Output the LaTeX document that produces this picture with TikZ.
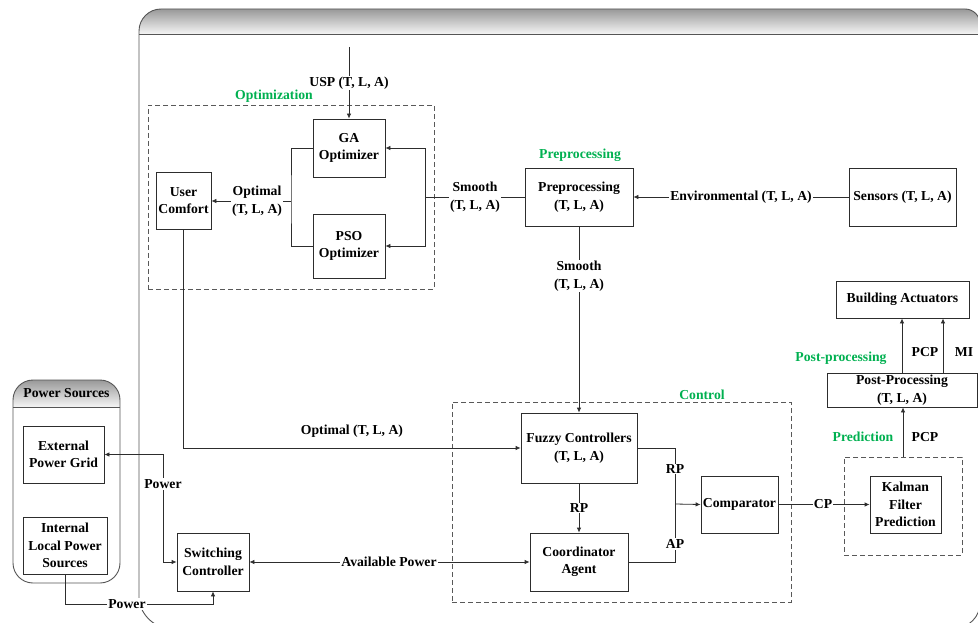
\documentclass[tikz,border=0pt]{standalone}
\usepackage{fontspec}
\setmainfont{Liberation Serif}
\usetikzlibrary{arrows.meta}
\definecolor{grn}{RGB}{0,176,80}
\definecolor{ln}{RGB}{45,45,45}
\definecolor{cont}{RGB}{85,85,85}
\begin{document}
\begin{tikzpicture}[x=1pt,y=-1pt,
 every node/.style={font=\fontsize{13.7}{17.5}\selectfont\bfseries},
 box/.style={draw=ln, line width=0.8pt, inner sep=0pt, align=center, fill=white},
 lbl/.style={fill=white, inner sep=1pt, align=center},
 grl/.style={text=grn, inner sep=0pt},
 dbox/.style={draw=black!65, dash pattern=on 5pt off 3pt, line width=0.8pt, inner sep=0pt},
 conn/.style={draw=ln, line width=0.8pt},
 arr/.style={conn, -{Latex[length=5pt,width=4.5pt]}},
 darr/.style={conn, {Latex[length=5pt,width=4.5pt]}-{Latex[length=5pt,width=4.5pt]}}
]
\useasboundingbox (0,0) rectangle (978,623);
\clip (0,0) rectangle (978,623);

% ---- main container
\def\mainshape{(139,598) -- (139,31) .. controls (139,18.9) and (148.9,9) .. (161,9) -- (965,9) .. controls (973.3,9) and (980,15.7) .. (980,24) -- (980,603) .. controls (980,616.8) and (968.8,628) .. (955,628) -- (169,628) .. controls (152.4,628) and (139,611.4) .. (139,598) -- cycle}
\begin{scope}
\clip \mainshape;
\shade[top color=black!40, bottom color=black!4] (139,9) rectangle (980,34);
\end{scope}
\draw[cont, line width=0.9pt] \mainshape;
\draw[cont, line width=0.9pt] (139,34) -- (980,34);

% ---- power sources container
\begin{scope}
\clip[rounded corners=20pt] (13,380) rectangle (120,583);
\shade[top color=black!40, bottom color=black!4] (13,380) rectangle (120,407);
\end{scope}
\draw[cont, line width=0.9pt, rounded corners=20pt] (13,380) rectangle (120,583);
\draw[cont, line width=0.9pt] (13,407) -- (120,407);
\node (pshead) at (66.5,393) {Power Sources};

% ---- dashed groups
\node[dbox, minimum width=286pt, minimum height=184pt] (optbox) at (291,197) {};
\node[dbox, minimum width=339pt, minimum height=200pt] (ctrlbox) at (621.5,502) {};
\node[dbox, minimum width=118pt, minimum height=98pt] (predbox) at (903,506) {};

% ---- green group labels
\node[grl] (gOpt) at (274,96) {Optimization};
\node[grl] (gPre) at (580,155) {Preprocessing};
\node[grl] (gCtrl) at (702,395) {Control};
\node[grl] (gPost) at (841,358) {Post-processing};
\node[grl] (gPred) at (863,437) {Prediction};

% ---- boxes
\node[box, minimum width=72pt, minimum height=58pt] (ga) at (349,148) {GA\\Optimizer};
\node[box, minimum width=72pt, minimum height=64pt] (pso) at (349,246) {PSO\\Optimizer};
\node[box, minimum width=55pt, minimum height=57pt] (uc) at (183.5,200.5) {User\\Comfort};
\node[box, minimum width=108pt, minimum height=58pt] (pre) at (579,197) {Preprocessing\\(T, L, A)};
\node[box, minimum width=107pt, minimum height=58pt] (sens) at (902.5,197) {Sensors (T, L, A)};
\node[box, minimum width=133pt, minimum height=37pt] (ba) at (902.5,299.5) {Building Actuators};
\node[box, minimum width=150pt, minimum height=34pt] (post) at (902,390) {Post-Processing\\(T, L, A)};
\node[box, minimum width=71pt, minimum height=57pt] (kal) at (905.5,504.5) {Kalman\\Filter\\Prediction};
\node[box, minimum width=77pt, minimum height=57pt] (comp) at (739.5,504.5) {Comparator};
\node[box, minimum width=116pt, minimum height=70pt] (fuzzy) at (579,448) {Fuzzy Controllers\\(T, L, A)};
\node[box, minimum width=98pt, minimum height=58pt] (coord) at (579,562) {Coordinator\\Agent};
\node[box, minimum width=72pt, minimum height=58pt] (sw) at (213,562) {Switching\\Controller};
\node[box, minimum width=81pt, minimum height=57pt] (ext) at (63.5,454.5) {External\\Power Grid};
\node[box, minimum width=84pt, minimum height=57pt] (int) at (65,545.5) {Internal\\Local Power\\Sources};

% ---- junction coordinates
\coordinate (uspTop) at (349,47);
\coordinate (optJ) at (291,201);
\coordinate (smJ) at (425,197);
\coordinate (cmpJ) at (675,504);
\coordinate (pwX) at (163,500);
\coordinate (pwB) at (0,604);
\coordinate (miX) at (943,0);

% ---- connectors
\draw[arr] (uspTop) -- (ga.north);
\node[lbl] (uspL) at (349,83) {USP (T, L, A)};

\draw[conn] (ga.west) -| (optJ) |- (pso.west);
\draw[arr] (optJ) -- (optJ -| uc.east);
\node[lbl] (optL) at (257,201) {Optimal\\(T, L, A)};

\draw[conn] (pre.west) -- (smJ);
\draw[arr] (smJ) |- (ga.east);
\draw[arr] (smJ) |- (pso.east);
\node[lbl] (smL) at (475,197) {Smooth\\(T, L, A)};

\draw[arr] (sens.west) -- (pre.east);
\node[lbl] (envL) at (741,197) {Environmental (T, L, A)};

\draw[arr] (pre.south) -- (fuzzy.north);
\node[lbl] (sm2L) at (579,276) {Smooth\\(T, L, A)};

\draw[arr] (uc.south) |- (fuzzy.west);
\node (opt2L) at (352,431) {Optimal (T, L, A)};

\draw[arr] (fuzzy.south) -- (coord.north);
\node[lbl] (rp1L) at (579,508) {RP};

\draw[conn] (fuzzy.east) -| (cmpJ);
\draw[conn] (coord.east) -| (cmpJ);
\draw[arr] (cmpJ) -- (comp.west);
\node[lbl] (rp2L) at (675,469) {RP};
\node[lbl] (apL) at (675,544) {AP};

\draw[arr] (comp.east) -- (kal.west);
\node[lbl] (cpL) at (823,504) {CP};

\draw[arr] (predbox.north) -- (predbox.north |- post.south);
\node (pcp1L) at (925,437) {PCP};

\draw[arr] (post.north) -- (post.north |- ba.south);
\draw[arr] (miX |- post.north) -- (miX |- ba.south);
\node (pcp2L) at (925,352) {PCP};
\node (miL) at (964,352) {MI};

\draw[darr] (sw.east) -- (coord.west);
\node[lbl] (apwL) at (389,562) {Available Power};

\draw[darr] (ext.east) -- (ext.east -| pwX) |- (sw.west);
\node[lbl] (pw1L) at (163,484) {Power};

\draw[arr] (int.south) -- (int.south |- pwB) -| (sw.south);
\node[lbl] (pw2L) at (127,604) {Power};
\end{tikzpicture}
\end{document}
